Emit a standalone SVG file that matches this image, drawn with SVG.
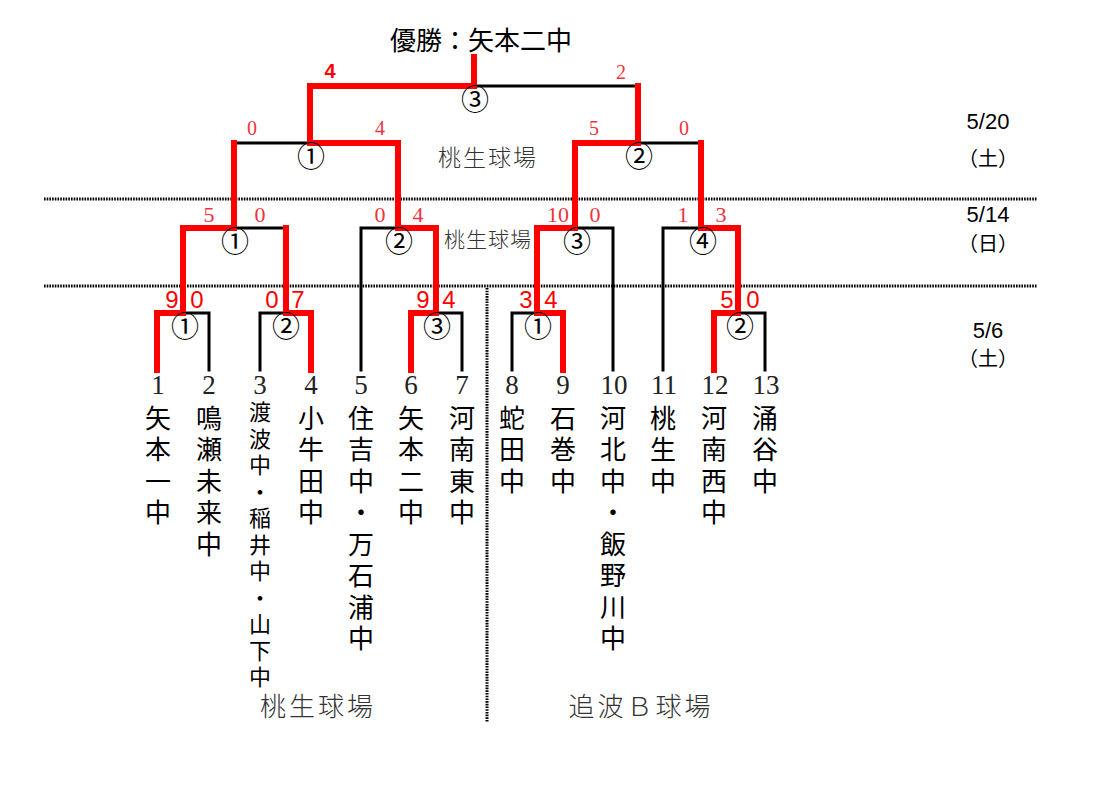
<svg xmlns="http://www.w3.org/2000/svg" width="1119" height="791" viewBox="0 0 1119 791">
<style>
.bk{fill:none;stroke:#000;stroke-width:3;stroke-linecap:square}
.rd{fill:none;stroke:#ff0000;stroke-width:6;stroke-linecap:square;stroke-linejoin:miter}
.dot{stroke:#000;stroke-width:3;stroke-dasharray:1.6 1.1}
.cj{font-family:"Noto Sans CJK JP","Noto Sans CJK SC",sans-serif;fill:#000}
.nm{font-family:"Noto Sans CJK JP","Noto Sans CJK SC",sans-serif;font-size:26px;fill:#000;writing-mode:vertical-rl;text-orientation:upright;letter-spacing:5.5px}
.nms{font-family:"Noto Sans CJK JP","Noto Sans CJK SC",sans-serif;font-size:22px;fill:#000;writing-mode:vertical-rl;text-orientation:upright;letter-spacing:4.5px}
.num{font-family:"Liberation Serif",serif;font-size:27px;fill:#222;text-anchor:middle}
.s1{font-family:"Liberation Sans",Arial,sans-serif;font-size:24px;fill:#ff0000;text-anchor:middle}
.s2{font-family:"Liberation Serif",serif;font-size:22px;fill:#ee3340;text-anchor:middle}
.s3{font-family:"Liberation Serif",serif;font-size:20px;fill:#ee3340;text-anchor:middle}
.cir{font-family:"Noto Sans CJK JP","Noto Sans CJK SC",sans-serif;font-size:28px;fill:#000;text-anchor:middle}
.ven{font-family:"Noto Sans CJK JP","Noto Sans CJK SC",sans-serif;fill:#333;text-anchor:middle;font-weight:300}
.dt{font-family:"Liberation Sans",Arial,sans-serif;font-size:22px;fill:#000;text-anchor:middle}
.dj{font-family:"Noto Sans CJK JP","Noto Sans CJK SC",sans-serif;font-size:20px;fill:#000;text-anchor:middle}
</style>
<rect width="1119" height="791" fill="#fff"/>
<g id="grid">
<line class="dot" x1="44" y1="199" x2="1037" y2="199"/>
<line class="dot" x1="44" y1="286" x2="1037" y2="286"/>
<line class="dot" x1="487" y1="288" x2="487" y2="722"/>
</g>
<g id="connectors">
<path class="bk" d="M157 370V313H209V370"/>
<path class="bk" d="M260 370V313H311V370"/>
<path class="bk" d="M411 370V313H462V370"/>
<path class="bk" d="M512 370V313H563V370"/>
<path class="bk" d="M714 370V313H765V370"/>
<path class="bk" d="M361 370V228H436V313"/>
<path class="bk" d="M613 370V228H537V313"/>
<path class="bk" d="M663 370V228H738V313"/>
<path class="bk" d="M183 313V228H286V313"/>
<path class="bk" d="M234 228V143H398V228"/>
<path class="bk" d="M575 228V143H701V228"/>
<path class="bk" d="M310 143V86H638V143"/>
<path class="rd" d="M157 370V313H183V228H234V143"/>
<path class="rd" d="M311 370V313H286V228"/>
<path class="rd" d="M411 370V313H436V228H398V143H310V86H474V57"/>
<path class="rd" d="M563 370V313H537V228H575V143H638V86"/>
<path class="rd" d="M714 370V313H738V228H701V143"/>
</g>
<g id="title"><text class="cj" x="481" y="50" font-size="26" text-anchor="middle">優勝：矢本二中</text></g>
<g id="circles">
<text class="cir" x="185" y="337">①</text>
<text class="cir" x="286" y="337">②</text>
<text class="cir" x="437" y="337">③</text>
<text class="cir" x="538" y="337">①</text>
<text class="cir" x="740" y="337">②</text>
<text class="cir" x="235" y="252">①</text>
<text class="cir" x="399" y="252">②</text>
<text class="cir" x="577" y="252">③</text>
<text class="cir" x="703" y="252">④</text>
<text class="cir" x="311" y="167">①</text>
<text class="cir" x="639" y="167">②</text>
<text class="cir" x="475" y="110">③</text>
</g>
<g id="scores">
<text x="330" y="78" font-family="Liberation Sans,Arial,sans-serif" font-size="20" font-weight="bold" fill="#ff0000" text-anchor="middle">4</text>
<text class="s3" x="621" y="79">2</text>
<text class="s3" x="252" y="135">0</text>
<text class="s3" x="380" y="135">4</text>
<text class="s3" x="594" y="135">5</text>
<text class="s3" x="684" y="135">0</text>
<text class="s2" x="209" y="222">5</text>
<text class="s2" x="260" y="222">0</text>
<text class="s2" x="380" y="222">0</text>
<text class="s2" x="418" y="222">4</text>
<text class="s2" x="558" y="222">10</text>
<text class="s2" x="595" y="222">0</text>
<text class="s2" x="683" y="222">1</text>
<text class="s2" x="721" y="222">3</text>
<text class="s1" x="172" y="308">9</text>
<text class="s1" x="197" y="308">0</text>
<text class="s1" x="272" y="308">0</text>
<text class="s1" x="298" y="308">7</text>
<text class="s1" x="423" y="308">9</text>
<text class="s1" x="449" y="308">4</text>
<text class="s1" x="526" y="308">3</text>
<text class="s1" x="551" y="308">4</text>
<text class="s1" x="727" y="308">5</text>
<text class="s1" x="753" y="308">0</text>
</g>
<g id="dates">
<text class="dt" x="988" y="129">5/20</text>
<text class="dj" x="988" y="166">（土）</text>
<text class="dt" x="988" y="222">5/14</text>
<text class="dj" x="988" y="251">（日）</text>
<text class="dt" x="988" y="338">5/6</text>
<text class="dj" x="988" y="366">（土）</text>
</g>
<g id="venues">
<text class="ven" x="488" y="166" font-size="23" letter-spacing="2">桃生球場</text>
<text class="ven" x="488" y="247" font-size="21" letter-spacing="1">桃生球場</text>
<text class="ven" x="318" y="716" font-size="26" letter-spacing="3">桃生球場</text>
<text class="ven" x="641" y="716" font-size="26" letter-spacing="3">追波Ｂ球場</text>
</g>
<g id="team1"><text class="num" x="158" y="394">1</text><text class="nm" x="158" y="405">矢本一中</text></g>
<g id="team2"><text class="num" x="209" y="394">2</text><text class="nm" x="209" y="405">鳴瀬未来中</text></g>
<g id="team3"><text class="num" x="260" y="394">3</text><text class="nms" x="260" y="401">渡波中・稲井中・山下中</text></g>
<g id="team4"><text class="num" x="311" y="394">4</text><text class="nm" x="311" y="405">小牛田中</text></g>
<g id="team5"><text class="num" x="361" y="394">5</text><text class="nm" x="361" y="405">住吉中・万石浦中</text></g>
<g id="team6"><text class="num" x="411" y="394">6</text><text class="nm" x="411" y="405">矢本二中</text></g>
<g id="team7"><text class="num" x="462" y="394">7</text><text class="nm" x="462" y="405">河南東中</text></g>
<g id="team8"><text class="num" x="512" y="394">8</text><text class="nm" x="512" y="405">蛇田中</text></g>
<g id="team9"><text class="num" x="563" y="394">9</text><text class="nm" x="563" y="405">石巻中</text></g>
<g id="team10"><text class="num" x="614" y="394">10</text><text class="nm" x="613" y="405">河北中・飯野川中</text></g>
<g id="team11"><text class="num" x="664" y="394">11</text><text class="nm" x="663" y="405">桃生中</text></g>
<g id="team12"><text class="num" x="715" y="394">12</text><text class="nm" x="714" y="405">河南西中</text></g>
<g id="team13"><text class="num" x="766" y="394">13</text><text class="nm" x="765" y="405">涌谷中</text></g>
</svg>
